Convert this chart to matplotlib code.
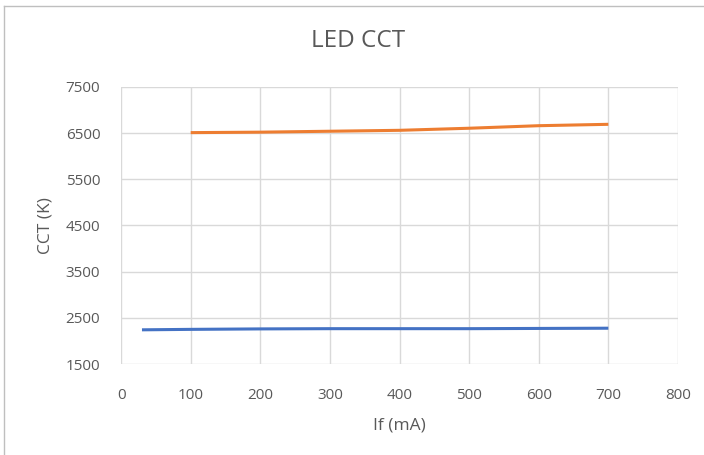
import matplotlib.pyplot as plt
from matplotlib.lines import Line2D

# -----------------------------
# Data
# -----------------------------
if_cool = [100, 200, 300, 400, 500, 600, 700]
cct_cool = [6510, 6520, 6540, 6560, 6605, 6660, 6690]

if_warm = [30, 100, 200, 300, 400, 500, 600, 700]
cct_warm = [2240, 2250, 2260, 2265, 2265, 2265, 2270, 2275]

x_ticks = [0, 100, 200, 300, 400, 500, 600, 700, 800]
y_ticks = [1500, 2500, 3500, 4500, 5500, 6500, 7500]

text_color = "#595959"
grid_color = "#D9D9D9"

plt.rcParams["font.family"] = ["Open Sans", "DejaVu Sans"]

# -----------------------------
# Figure
# -----------------------------
fig = plt.figure(figsize=(7.04, 4.55), dpi=100)
ax = fig.add_axes([0.172, 0.2, 0.791, 0.609])

ax.plot(if_cool, cct_cool, color="#ED7D31", linewidth=2.2, solid_capstyle="butt")
ax.plot(if_warm, cct_warm, color="#4472C4", linewidth=2.2, solid_capstyle="butt")

ax.set_xlim(0, 800)
ax.set_ylim(1500, 7500)
ax.set_xticks(x_ticks)
ax.set_yticks(y_ticks)
ax.grid(True, color=grid_color, linewidth=1)
ax.set_axisbelow(True)
for s in ax.spines.values():
    s.set_visible(False)
ax.tick_params(length=0, labelsize=11, colors=text_color)
ax.tick_params(axis="x", pad=17)
ax.tick_params(axis="y", pad=15)

ax.set_xlabel("If (mA)", fontsize=12.5, color=text_color, labelpad=11)
ax.set_ylabel("CCT (K)", fontsize=12.5, color=text_color, labelpad=9)

# title centred on the whole chart area, Excel style
fig.text(358 / 704, 1 - 41 / 455, "LED CCT", fontsize=17.5, color=text_color,
         ha="center", va="center")

# chart frame (left and top edges)
fig.add_artist(Line2D([4 / 704, 4 / 704], [0, 1 - 6 / 455], color="#BFBFBF", linewidth=1))
fig.add_artist(Line2D([4 / 704, 1], [1 - 6 / 455, 1 - 6 / 455], color="#BFBFBF", linewidth=1))

fig.savefig("out.png", dpi=100)
